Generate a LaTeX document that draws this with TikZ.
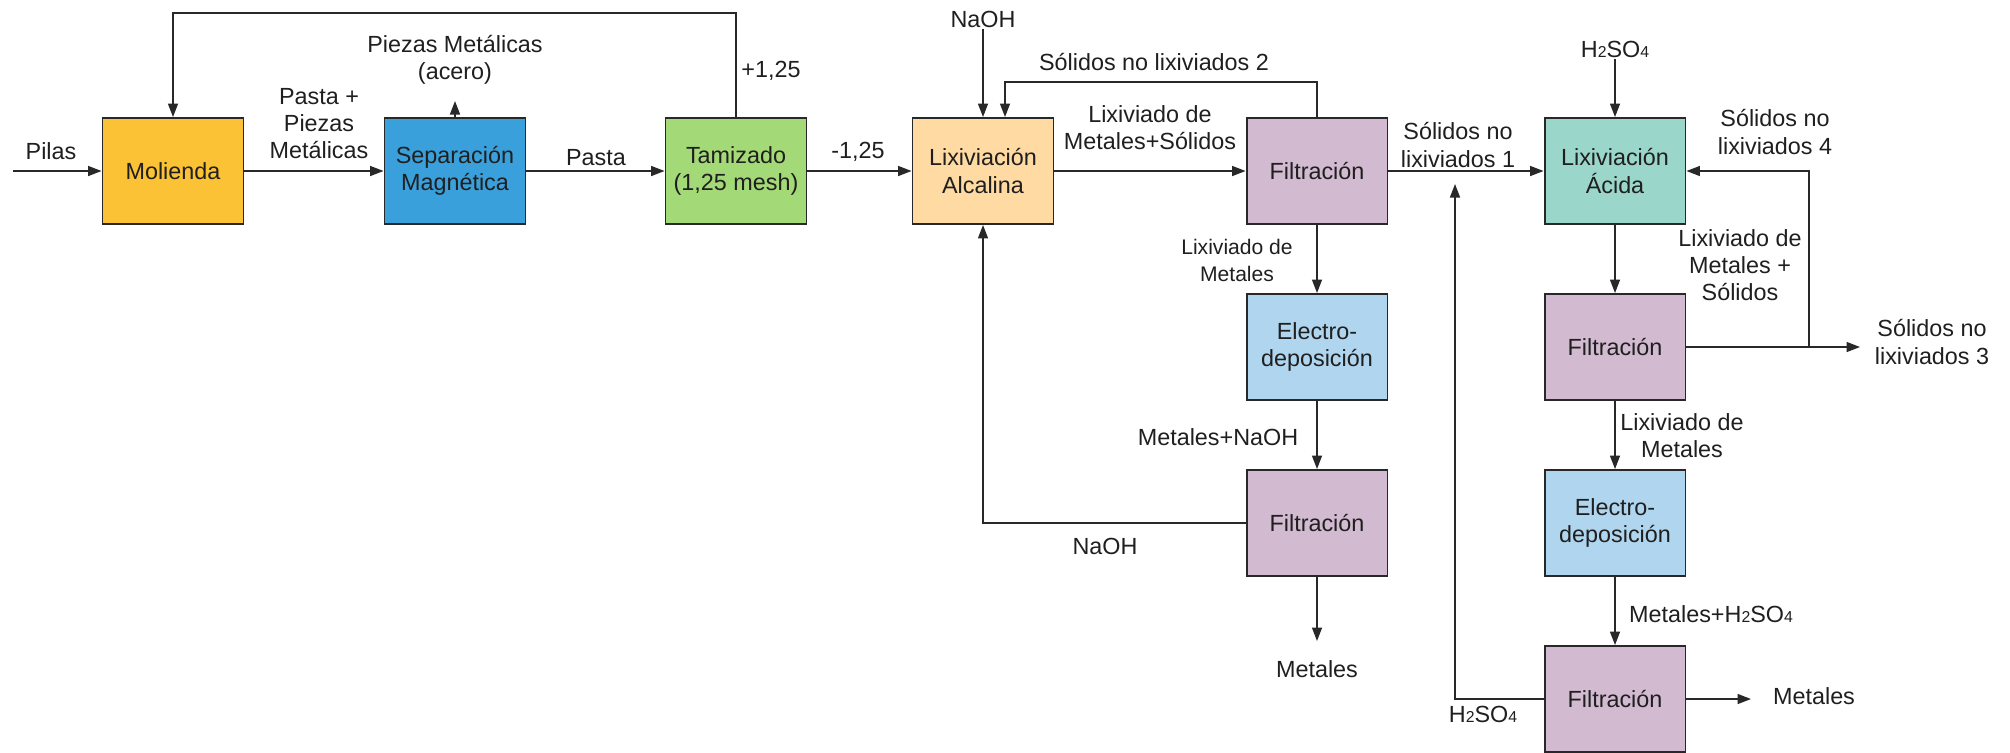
\documentclass[tikz,border=0pt]{standalone}
\usepackage{fontspec}
\setmainfont{Liberation Sans}
\usepackage{xcolor}
\usetikzlibrary{positioning,calc,arrows.meta}

\definecolor{cMol}{RGB}{251,194,54}
\definecolor{cSep}{RGB}{58,160,219}
\definecolor{cTam}{RGB}{163,217,119}
\definecolor{cAlc}{RGB}{255,218,163}
\definecolor{cFil}{RGB}{210,186,208}
\definecolor{cEle}{RGB}{176,213,238}
\definecolor{cAci}{RGB}{155,214,202}
\definecolor{cLine}{RGB}{40,40,40}

\newcommand{\hsofor}{H{\fontsize{9}{9}\selectfont 2}SO{\fontsize{9}{9}\selectfont 4}}

\begin{document}
\begin{tikzpicture}[x=0.02cm, y=-0.02cm,
    font=\fontsize{13.3}{15.4}\selectfont,
    box/.style={draw=cLine, line width=1.1pt, minimum width=2.82cm, minimum height=2.12cm, align=center, text=black!88},
    flow/.style={draw=cLine, line width=0.85pt, -{Triangle[length=0.27cm,width=0.2cm]}},
    lbl/.style={align=center, inner sep=1pt, text=black!88}]
    \useasboundingbox (0,0) rectangle (2010,752);

    % Linea principal
    \node[box, fill=cMol] (mol) at (173,171) {Molienda};
    \node[box, fill=cSep] (sep) at (455,171) {Separación\\Magnética};
    \node[box, fill=cTam] (tam) at (736,171) {Tamizado\\(1,25 mesh)};
    \node[box, fill=cAlc] (alc) at (983,171) {Lixiviación\\Alcalina};
    \node[box, fill=cFil] (fil1) at (1317,171) {Filtración};
    \node[box, fill=cAci] (acid) at (1615,171) {Lixiviación\\Ácida};

    % Rama alcalina
    \node[box, fill=cEle] (ele1) at (1317,347) {Electro-\\deposición};
    \node[box, fill=cFil] (fil2) at (1317,523) {Filtración};

    % Rama acida
    \node[box, fill=cFil] (fil3) at (1615,347) {Filtración};
    \node[box, fill=cEle] (ele2) at (1615,523) {Electro-\\deposición};
    \node[box, fill=cFil] (fil4) at (1615,699) {Filtración};

    % Etiquetas
    \node[lbl] (pilas) at (51,151) {Pilas};
    \node[lbl] (pasmet) at (319,124) {Pasta +\\Piezas\\Metálicas};
    \node[lbl] (acero) at (455,60) {Piezas Metálicas\\(acero)};
    \node[lbl] (pasta) at (596,158) {Pasta};
    \node[lbl] (mas) at (771,71) {+1,25};
    \node[lbl] (menos) at (858,152) {-1,25};
    \node[lbl] (naoha) at (983,19) {NaOH};
    \node[lbl] (sol2) at (1154,62) {Sólidos no lixiviados 2};
    \node[lbl] (lixms) at (1150,128) {Lixiviado de\\Metales+Sólidos};
    \node[lbl] (sol1) at (1458,145) {Sólidos no\\lixiviados 1};
    \node[lbl, font=\fontsize{12}{15.4}\selectfont] (lixma) at (1237,260) {Lixiviado de\\Metales};
    \node[lbl] (mnaoh) at (1218,437) {Metales+NaOH};
    \node[lbl] (naohb) at (1105,546) {NaOH};
    \node[lbl] (meta) at (1317,669) {Metales};
    \node[lbl] (hsoa) at (1615,49) {\hsofor};
    \node[lbl] (sol4) at (1775,132) {Sólidos no\\lixiviados 4};
    \node[lbl] (lixmsb) at (1740,265) {Lixiviado de\\Metales +\\Sólidos};
    \node[lbl] (sol3) at (1932,342) {Sólidos no\\lixiviados 3};
    \node[lbl] (lixmb) at (1682,436) {Lixiviado de\\Metales};
    \node[lbl] (mhso) at (1711,614) {Metales+\hsofor};
    \node[lbl] (metb) at (1814,696) {Metales};
    \node[lbl] (hsob) at (1483,714) {\hsofor};

    % Puntos libres
    \coordinate (inicio) at (13,171);
    \coordinate (sepout) at (455,101);
    \coordinate (ret) at (173,13);
    \coordinate (s2) at (1005,82);
    \coordinate (metaend) at (1317,641);
    \coordinate (s3end) at (1860,347);
    \coordinate (s4) at (1809,347);
    \coordinate (metbend) at (1751,699);
    \coordinate (hsoend) at (1455,184);

    % Conexiones
    \draw[flow] (inicio) -- (mol);
    \draw[flow] (mol) -- (sep);
    \draw[flow] (sep) -- (sepout);
    \draw[flow] (sep) -- (tam);
    \draw[flow] (tam.north) |- (ret) -- (mol.north);
    \draw[flow] (tam) -- (alc);
    \draw[flow] (naoha) -- (alc);
    \draw[flow] (fil1.north) |- (s2) -- (s2 |- alc.north);
    \draw[flow] (alc) -- (fil1);
    \draw[flow] (fil1) -- (acid);
    \draw[flow] (fil1) -- (ele1);
    \draw[flow] (ele1) -- (fil2);
    \draw[flow] (fil2.west) -| (alc.south);
    \draw[flow] (fil2) -- (metaend);
    \draw[flow] (hsoa) -- (acid);
    \draw[flow] (acid) -- (fil3);
    \draw[flow] (fil3) -- (s3end);
    \draw[flow] (s4) |- (acid.east);
    \draw[flow] (fil3) -- (ele2);
    \draw[flow] (ele2) -- (fil4);
    \draw[flow] (fil4) -- (metbend);
    \draw[flow] (fil4.west) -| (hsoend);
\end{tikzpicture}
\end{document}
